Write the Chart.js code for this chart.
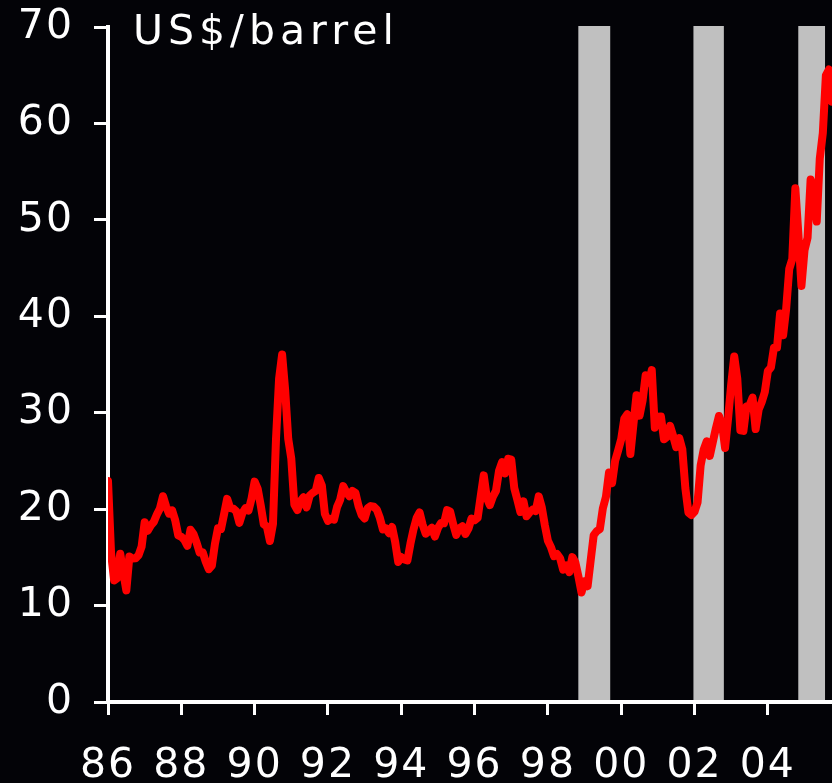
<!DOCTYPE html>
<html>
<head>
<meta charset="utf-8">
<script src="https://cdn.jsdelivr.net/npm/chart.js@4"></script>
<style>
  html, body { margin: 0; padding: 0; background: #030307; }
  canvas { display: block; }
</style>
</head>
<body>
<canvas id="chart1" width="832" height="783"></canvas>
<script>
// monthly oil price, US$/barrel, from Jan 1986
const startYear = 1986
const oil86to90 = [
  22.93, 15.46, 12.61, 12.84, 15.38, 13.43, 11.58, 15.10, 14.87, 14.90, 15.22, 16.11,
  18.65, 17.75, 18.30, 18.68, 19.44, 20.07, 21.34, 20.31, 19.53, 19.86, 18.85, 17.28,
  17.13, 16.80, 16.20, 17.86, 17.42, 16.53, 15.50, 15.52, 14.54, 13.77, 14.14, 16.38,
  18.02, 17.94, 19.48, 21.07, 20.12, 20.05, 19.78, 18.58, 19.59, 20.10, 19.86, 21.10,
  22.86, 22.11, 20.39, 18.43, 18.20, 16.70, 18.45, 27.31, 33.51, 36.04, 32.33, 27.28
]
const oil91to95 = [
  25.23, 20.48, 19.90, 20.83, 21.23, 20.19, 21.40, 21.69, 21.89, 23.23, 22.46, 19.50,
  18.79, 19.01, 18.92, 20.23, 20.98, 22.39, 21.78, 21.34, 21.88, 21.69, 20.34, 19.41,
  19.03, 20.09, 20.32, 20.25, 19.95, 19.09, 17.89, 18.01, 17.50, 18.15, 16.61, 14.52,
  15.03, 14.78, 14.68, 16.42, 17.89, 19.06, 19.66, 18.38, 17.45, 17.72, 18.07, 17.16,
  18.04, 18.57, 18.54, 19.90, 19.74, 18.45, 17.33, 18.02, 18.23, 17.43, 17.99, 19.03
]
const oil96to00 = [
  18.85, 19.09, 21.33, 23.50, 21.17, 20.42, 21.30, 21.90, 23.97, 24.88, 23.71, 25.23,
  25.13, 22.18, 20.97, 19.70, 20.82, 19.26, 19.66, 19.95, 19.80, 21.33, 20.19, 18.33,
  16.72, 16.06, 15.12, 15.35, 14.91, 13.72, 14.17, 13.47, 15.03, 14.46, 13.00, 11.35,
  12.52, 12.01, 14.68, 17.31, 17.72, 17.92, 20.10, 21.28, 23.80, 22.69, 25.00, 26.10,
  27.26, 29.37, 29.84, 25.72, 28.79, 31.82, 29.70, 31.26, 33.88, 33.11, 34.42, 28.44
]
const oil01to05 = [
  29.59, 29.61, 27.25, 27.49, 28.63, 27.60, 26.43, 27.37, 26.20, 22.17, 19.64, 19.39,
  19.72, 20.72, 24.53, 26.18, 27.04, 25.52, 26.97, 28.39, 29.66, 28.84, 26.35, 29.46,
  32.95, 35.83, 33.51, 28.17, 28.11, 30.66, 30.75, 31.57, 28.31, 30.34, 31.11, 32.13,
  34.31, 34.69, 36.74, 36.75, 40.28, 38.03, 40.78, 44.90, 45.94, 53.28, 48.47, 43.15,
  46.84, 48.15, 54.19, 52.98, 49.83, 56.35, 59.00, 64.99, 65.59, 62.26
]

// shaded periods (decimal years)
const bandStart = [1998.83, 2001.97, 2004.83]
const bandEnd = [1999.70, 2002.80, 2005.56]

const xTickYears = [1986, 1988, 1990, 1992, 1994, 1996, 1998, 2000, 2002, 2004]
const xTickLabels = ['86', '88', '90', '92', '94', '96', '98', '00', '02', '04']
const yTicks = [0, 10, 20, 30, 40, 50, 60, 70]
const unitLabel = 'US$/barrel'

const prices = [...oil86to90, ...oil91to95, ...oil96to00, ...oil01to05]
const points = prices.map((p, i) => ({ x: startYear + i / 12, y: p }))

const FONT = { family: 'DejaVu Sans', size: 41 }

const backdrop = {
  id: 'backdrop',
  beforeDraw(chart) {
    const { ctx, scales: { x, y } } = chart
    ctx.save()
    ctx.fillStyle = '#030307'
    ctx.fillRect(0, 0, chart.width, chart.height)
    ctx.fillStyle = '#c0c0c0'
    const top = y.getPixelForValue(70) - 1
    const bottom = y.getPixelForValue(0)
    bandStart.forEach((s, i) => {
      const l = x.getPixelForValue(s)
      const r = x.getPixelForValue(bandEnd[i])
      ctx.fillRect(l, top, r - l, bottom - top)
    })
    ctx.restore()
    ctx.letterSpacing = '2px'
  },
  afterDraw(chart) {
    const { ctx, chartArea } = chart
    ctx.save()
    ctx.letterSpacing = '5px'
    ctx.fillStyle = '#ffffff'
    ctx.font = '41px "DejaVu Sans"'
    ctx.textBaseline = 'alphabetic'
    ctx.textAlign = 'left'
    ctx.fillText(unitLabel, chartArea.left + 25, 44)
    ctx.restore()
  }
}

const data = {
  datasets: [{
    data: points,
    borderColor: '#ff0000',
    borderWidth: 8,
    borderJoinStyle: 'round',
    borderCapStyle: 'round',
    pointRadius: 0,
    tension: 0
  }]
}

const options = {
  responsive: false,
  animation: false,
  layout: { padding: { top: 27, right: 0, bottom: 0, left: 0 } },
  plugins: { legend: { display: false }, tooltip: { enabled: false } },
  scales: {
    x: {
      type: 'linear',
      min: 1986,
      max: 2005.75,
      afterBuildTicks: (s) => { s.ticks = xTickYears.map(v => ({ value: v })) },
      afterFit: (s) => { s.height = 81; s.paddingLeft = 0; s.paddingRight = 0 },
      ticks: {
        autoSkip: false,
        maxRotation: 0,
        color: '#ffffff',
        font: FONT,
        padding: 27,
        callback: (v) => xTickLabels[xTickYears.indexOf(v)]
      },
      grid: { drawOnChartArea: false, tickLength: 13, tickWidth: 3, tickColor: '#ffffff' },
      border: { color: '#ffffff', width: 4 }
    },
    y: {
      min: 0,
      max: 70,
      afterBuildTicks: (s) => { s.ticks = yTicks.map(v => ({ value: v })) },
      afterFit: (s) => { s.width = 108; s.paddingTop = 0; s.paddingBottom = 0 },
      ticks: { color: '#ffffff', font: FONT, padding: 20 },
      grid: { drawOnChartArea: false, tickLength: 14, tickWidth: 3, tickColor: '#ffffff' },
      border: { color: '#ffffff', width: 4 }
    }
  }
}

new Chart('chart1', { type: 'line', data, options, plugins: [backdrop] })
</script>
</body>
</html>
